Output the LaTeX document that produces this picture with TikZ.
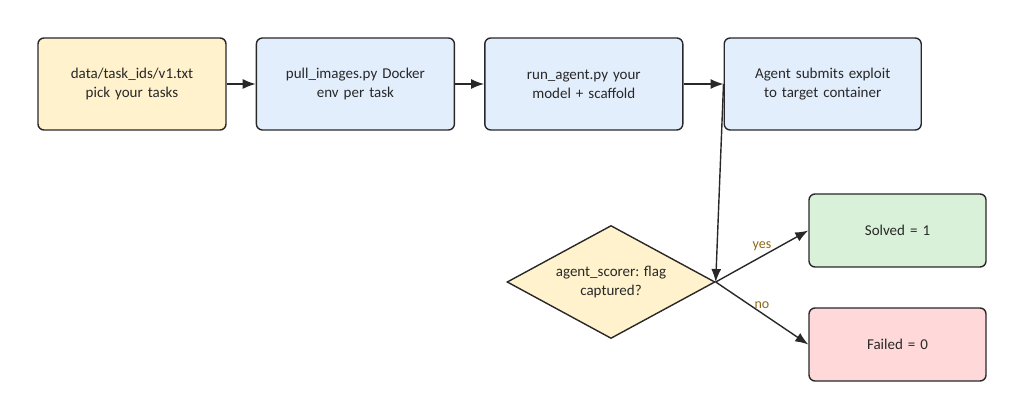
\documentclass[tikz,border=0pt]{standalone}
\usepackage{fontspec}
\setmainfont{Carlito}
\usetikzlibrary{arrows.meta, positioning, shapes.geometric}
\definecolor{InkGray}{RGB}{40, 40, 40}
\definecolor{TaskYellow}{RGB}{255, 242, 204}
\definecolor{StepBlue}{RGB}{227, 238, 253}
\definecolor{PassGreen}{RGB}{217, 240, 217}
\definecolor{FailRed}{RGB}{255, 217, 217}
\definecolor{LabelBrown}{RGB}{139, 105, 20}

\begin{document}
\begin{tikzpicture}[
        x=1pt, y=-1pt,
        node distance = 29pt,
        box/.style = {draw=InkGray, line width=1.4pt, fill=StepBlue, text width=180pt, align=center, minimum width=198pt, minimum height=92pt, rounded corners=6pt, text=InkGray, font=\fontsize{15}{19}\selectfont},
        decision/.style = {diamond, aspect=1.9, draw=InkGray, line width=1.4pt, fill=TaskYellow, minimum width=208pt, minimum height=113pt, inner sep=0pt, align=center, text=InkGray, font=\fontsize{15}{19}\selectfont},
        line/.style = {draw=InkGray, line width=1.4pt, -{Latex[length=13pt, width=10pt]}},
        edgelabel/.style = {text=LabelBrown, font=\fontsize{14}{16}\selectfont}
    ]
        \useasboundingbox (0,0) rectangle (1024,419);

        % Pipeline
        \node (tasks_node) [box, fill=TaskYellow, minimum width=188pt, text width=170pt] at (132,84) {data/task\_ids/v1.txt\\ pick your tasks};
        \node (pull_node) [box, right=of tasks_node] {pull\_images.py Docker\\ env per task};
        \node (run_node) [box, right=of pull_node] {run\_agent.py your\\ model + scaffold};
        \node (submit_node) [box, right=40pt of run_node, minimum width=197pt] {Agent submits exploit\\ to target container};

        % Scoring
        \node (scorer_node) [decision] at (611,282) {agent\_scorer: flag\\ captured?};
        \node (solved_node) [box, fill=PassGreen, minimum width=177pt, minimum height=73pt, text width=150pt] at (897.5,230.5) {Solved = 1};
        \node (failed_node) [box, fill=FailRed, minimum width=177pt, minimum height=73pt, text width=150pt] at (897.5,344.5) {Failed = 0};

        \draw [line] (tasks_node) -- (pull_node);
        \draw [line] (pull_node) -- (run_node);
        \draw [line] (run_node) -- (submit_node);
        \draw [line] (submit_node.west) -- (scorer_node.east);
        \draw [line] (scorer_node.east) -- (solved_node.west) node [edgelabel, pos=0.5, above, yshift=1pt] {yes};
        \draw [line] (scorer_node.east) -- (failed_node.west) node [edgelabel, pos=0.5, above, yshift=1pt] {no};

    \end{tikzpicture}
\end{document}
